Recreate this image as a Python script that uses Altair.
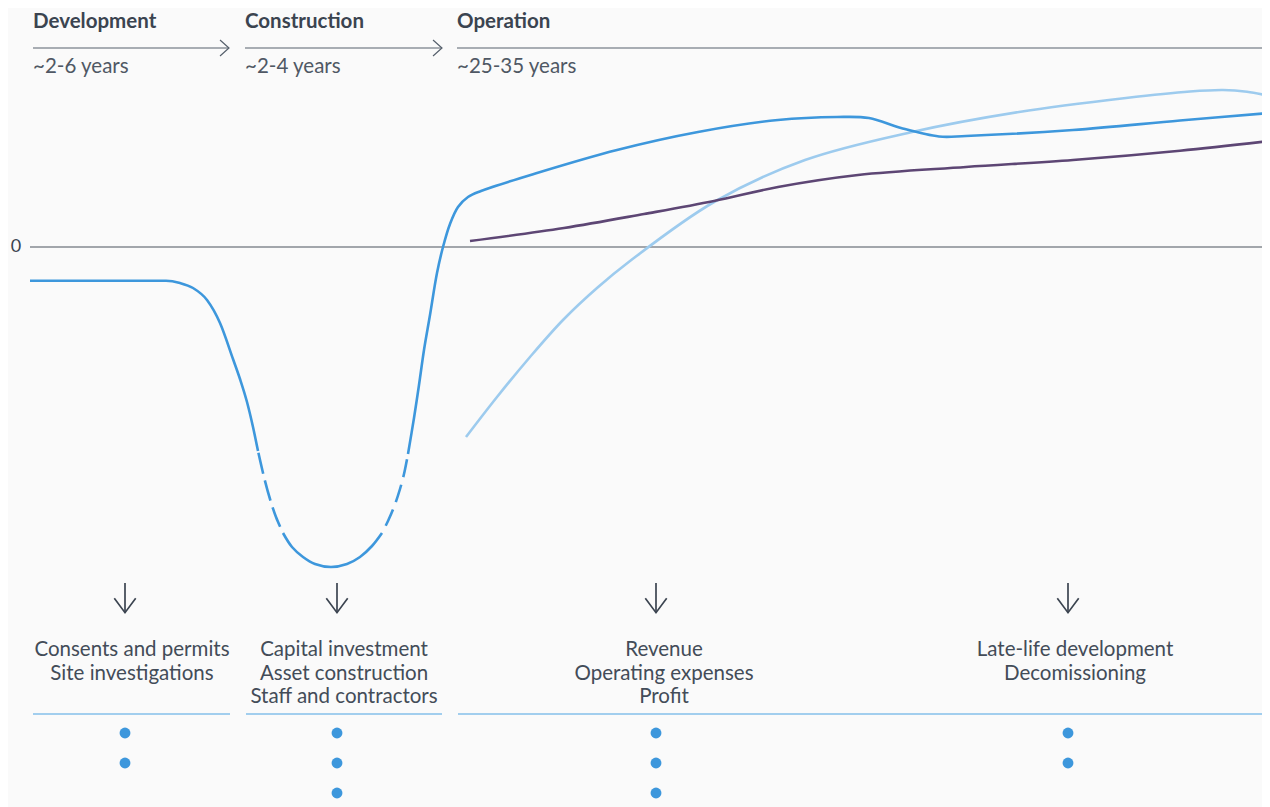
import altair as alt
import pandas as pd

# ---------------- data ----------------
# horizontal positions are timeline units (left -> right), vertical values are relative cash flow (0 = break-even)
phases = ["Development", "Construction", "Operation"]
durations = ["~2-6 years", "~2-4 years", "~25-35 years"]
phase_start = [33, 245, 457]
phase_end = [229, 442, 1270]

# project cash flow (main blue line), split into solid and dashed stretches
cf1_x = [30, 166, 180, 193, 207, 220, 233, 240, 247, 253, 258]
cf1_y = [-33.7, -33.7, -36, -41, -53, -76, -112, -132, -155, -180, -204]
cf2_x = [258, 264, 270, 276, 283]
cf2_y = [-204, -230, -252, -270, -286]
cf3_x = [283, 292, 303, 315, 331, 347, 360, 372, 382]
cf3_y = [-286, -300, -310, -317, -320, -317, -310, -299, -286]
cf4_x = [382, 388, 394, 400, 404, 408]
cf4_y = [-286, -274, -260, -242, -227, -207]
cf5_x = [408, 414, 419, 424, 430, 437, 443, 450, 458, 468, 481, 537, 617, 698, 778, 837, 869, 901, 939, 966, 1073, 1180, 1270]
cf5_y = [-207, -171, -138, -103, -68, -26, 0, 23, 40, 50, 56, 74, 97, 115, 127, 130, 129, 119, 110.5, 111, 117, 126.5, 134]

# light blue line
lb_x = [466, 497, 530, 563, 597, 630, 714, 805, 912, 1019, 1126, 1190, 1223, 1247, 1270]
lb_y = [-190, -150, -110, -73, -41, -14, 45, 87, 115, 135, 149, 155.5, 157, 155.3, 151]

# purple line
pu_x = [470, 564, 644, 714, 778, 858, 966, 1073, 1180, 1270]
pu_y = [6, 19, 33, 46, 60, 72, 80, 87, 96.3, 106]

activity_lines = [
    ["Consents and permits", "Site investigations"],
    ["Capital investment", "Asset construction", "Staff and contractors"],
    ["Revenue", "Operating expenses", "Profit"],
    ["Late-life development", "Decomissioning"],
]
activity_center = [132, 344, 664, 1075]
arrow_x = [125, 337, 656, 1068]
dot_count = [2, 3, 3, 2]
sep_start = [33, 246, 458]
sep_end = [230, 442, 1270]

# ---------------- styling ----------------
BG = "#fafafa"
BLUE = "#3d97dc"
LIGHT = "#9dcbee"
PURPLE = "#5d4674"
DARK = "#3b4450"
TEXT = "#434c58"
SEP = "#84bfea"
FONT = "Lato"

W, H = 1254, 799
xs = alt.Scale(domain=[8, 8 + W], range=[0, W], nice=False, zero=False)
ys = alt.Scale(domain=[-560, 239], nice=False, zero=False)
X = lambda f="x": alt.X(f"{f}:Q", scale=xs, axis=None)
Y = lambda f="y": alt.Y(f"{f}:Q", scale=ys, axis=None)


def line(xv, yv, color, interp="catmull-rom", **kw):
    df = pd.DataFrame({"x": xv, "y": yv})
    return alt.Chart(df).mark_line(interpolate=interp, color=color, strokeWidth=2.6,
                                   strokeCap="butt", **kw).encode(x=X(), y=Y())


layers = []

# zero line and label
zero_df = pd.DataFrame({"x": [30], "x2": [1270], "y": [0], "t": ["0"], "lx": [16]})
layers.append(alt.Chart(zero_df).mark_rule(color="#4b535d", strokeWidth=1.2).encode(
    x=X(), x2="x2:Q", y=Y()))
layers.append(alt.Chart(zero_df).mark_text(font=FONT, fontSize=18, color=DARK, baseline="middle",
                                           align="center").encode(x=X("lx"), y=Y(), text="t:N"))

# phase header
ph = pd.DataFrame({"phase": phases, "dur": durations, "x": phase_start, "x2": phase_end})
ph["y_line"] = 247 - 48
ph["y_title"] = 247 - 28.3
ph["y_dur"] = 247 - 72.5
layers.append(alt.Chart(ph).mark_rule(color="#56606c", strokeWidth=1.2).encode(
    x=X(), x2="x2:Q", y=Y("y_line")))
layers.append(alt.Chart(ph).mark_text(font=FONT, fontSize=20.5, fontWeight="bold", color=DARK,
                                      align="left", baseline="alphabetic").encode(
    x=X(), y=Y("y_title"), text="phase:N"))
layers.append(alt.Chart(ph).mark_text(font=FONT, fontSize=20.5, color="#4f5864",
                                      align="left", baseline="alphabetic").encode(
    x=X(), y=Y("y_dur"), text="dur:N"))
chev = ph.iloc[:2].copy()
chev["cx"] = chev["x2"] - 4.5
layers.append(alt.Chart(chev).mark_point(shape="M-0.56,-1L0.56,0L-0.56,1", size=256, filled=False,
                                         color="#56606c", strokeWidth=1.2, opacity=1).encode(
    x=X("cx"), y=Y("y_line")))

# curves
layers.append(line(lb_x, lb_y, LIGHT))
layers.append(line(pu_x, pu_y, PURPLE))
layers.append(line(cf1_x, cf1_y, BLUE, interp="monotone"))
layers.append(line(cf2_x, cf2_y, BLUE, strokeDash=[21, 7], strokeDashOffset=26))
layers.append(line(cf3_x, cf3_y, BLUE))
layers.append(line(cf4_x, cf4_y, BLUE, strokeDash=[18, 8], strokeDashOffset=18))
layers.append(line(cf5_x, cf5_y, BLUE))

# down arrows
ar = pd.DataFrame({"x": arrow_x})
ar["y1"] = 247 - 583
ar["y2"] = 247 - 612.5
ar["yc"] = 247 - 605.5
layers.append(alt.Chart(ar).mark_rule(color=DARK, strokeWidth=1.7).encode(
    x=X(), y=Y("y1"), y2="y2:Q"))
layers.append(alt.Chart(ar).mark_point(shape="M-1,-0.67L0,0.67L1,-0.67", size=458, filled=False,
                                       color=DARK, strokeWidth=1.7, opacity=1).encode(
    x=X(), y=Y("yc")))

# activity text
rows = []
for c, lines in zip(activity_center, activity_lines):
    for i, t in enumerate(lines):
        rows.append({"x": c, "y": 247 - (656 + 23.5 * i), "t": t})
act = pd.DataFrame(rows)
layers.append(alt.Chart(act).mark_text(font=FONT, fontSize=20.5, color=TEXT, align="center",
                                       baseline="alphabetic").encode(x=X(), y=Y(), text="t:N"))

# separators
sep = pd.DataFrame({"x": sep_start, "x2": sep_end, "y": [247 - 714] * 3})
layers.append(alt.Chart(sep).mark_rule(color=SEP, strokeWidth=1.5).encode(x=X(), x2="x2:Q", y=Y()))

# dots
drows = []
for ax, n in zip(arrow_x, dot_count):
    for i in range(n):
        drows.append({"x": ax, "y": 247 - (733 + 30 * i)})
dots = pd.DataFrame(drows)
layers.append(alt.Chart(dots).mark_circle(color=BLUE, size=118, opacity=1).encode(x=X(), y=Y()))

chart = alt.layer(*layers).properties(width=W, height=H, padding=0, autosize="none",
                                     background=BG).configure_view(stroke=None)
chart.save("out.html", embed_options={"renderer": "svg", "actions": False})
